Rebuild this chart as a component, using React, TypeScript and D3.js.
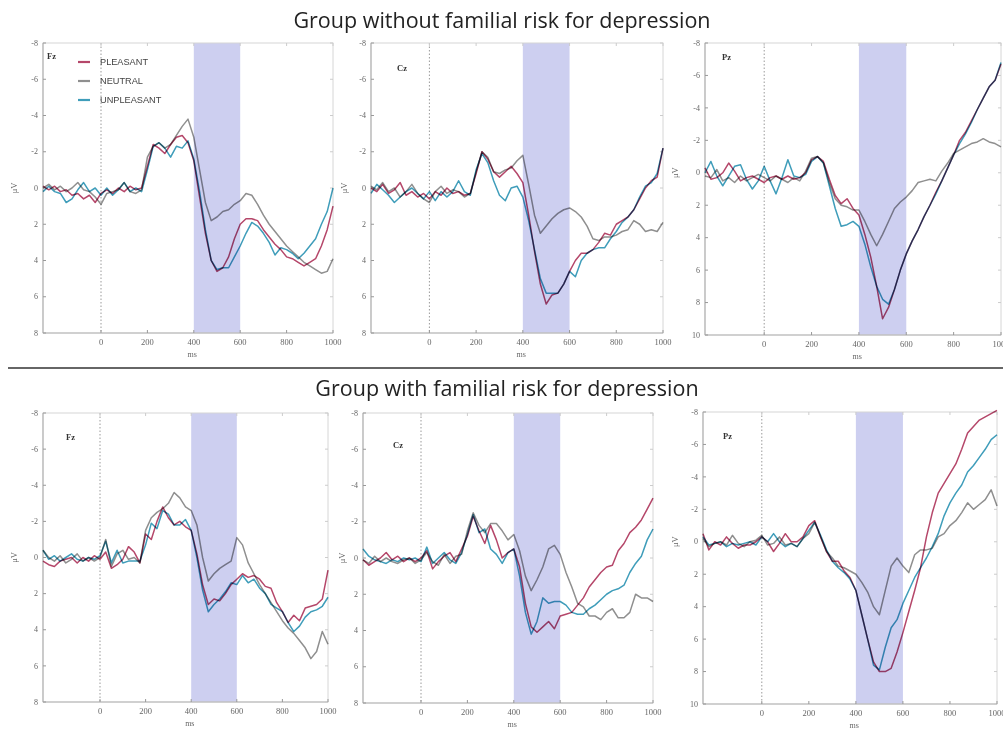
import React from "react";
import * as d3 from "d3";

// ---------- data ----------
const timeMs: number[] = d3.range(-250, 1001, 25);
const xTicks = [0, 200, 400, 600, 800, 1000];
const yTicksFzCz = [-8, -6, -4, -2, 0, 2, 4, 6, 8];
const yTicksPz = [-8, -6, -4, -2, 0, 2, 4, 6, 8, 10];
const conditions = ["PLEASANT", "NEUTRAL", "UNPLEASANT"];
const conditionColors = ["#b5476a", "#8f8f8f", "#3f9dba"];
const groupTitles = [
  "Group without familial risk for depression",
  "Group with familial risk for depression",
];
const windowMs = [400, 600];

// Group without familial risk
const noRiskFzPleasant = [
  -0.1, 0.1, -0.1, 0.2, 0.1, 0.4, 0.3, 0.6, 0.4, 0.8,
  0.3, 0.1, 0.3, 0.0, 0.2, -0.1, 0.1, 0.0, -1.2, -2.4,
  -2.2, -1.9, -2.4, -2.8, -2.9, -2.5, -1.5, 0.5, 2.5, 4.0,
  4.6, 4.4, 3.8, 2.8, 2.0, 1.7, 1.7, 1.8, 2.3, 2.7,
  3.1, 3.4, 3.8, 3.9, 4.1, 4.3, 4.1, 3.9, 3.2, 2.3,
  1.0,
];
const noRiskFzNeutral = [
  0.0, -0.2, 0.1, -0.1, 0.2, 0.0, -0.3, 0.1, 0.2, 0.5,
  0.9, 0.3, 0.2, 0.1, -0.3, 0.2, 0.3, 0.1, -1.7, -2.3,
  -2.5, -2.2, -2.4, -2.9, -3.4, -3.8, -2.8, -1.0, 0.8, 1.8,
  1.6, 1.3, 1.2, 0.9, 0.7, 0.3, 0.4, 0.9, 1.5, 2.0,
  2.4, 2.8, 3.2, 3.5, 3.8, 4.1, 4.3, 4.5, 4.7, 4.6,
  3.9,
];
const noRiskFzUnpleasant = [
  0.2, -0.1, 0.2, 0.3, 0.8, 0.6, 0.1, -0.3, 0.2, 0.0,
  0.4, 0.0, 0.4, 0.1, -0.3, 0.2, 0.0, 0.2, -1.0, -2.3,
  -2.5, -2.2, -1.7, -2.3, -2.2, -2.6, -1.6, 0.2, 2.3, 4.0,
  4.5, 4.4, 4.4, 3.8, 3.2, 2.5, 1.9, 2.1, 2.5, 3.0,
  3.7, 3.3, 3.4, 3.6, 3.9, 3.6, 3.2, 2.8, 2.0, 1.3,
  0.0,
];
const noRiskCzPleasant = [
  0.0, 0.2, -0.2, 0.3, 0.1, -0.3, 0.4, 0.2, 0.5, 0.3,
  0.6, 0.2, 0.4, 0.0, 0.3, 0.2, 0.4, 0.3, -0.8, -2.0,
  -1.6, -0.9, -0.6, -0.9, -1.2, -0.8, -0.3, 1.5, 3.5, 5.3,
  6.4, 5.9, 5.8, 5.3, 4.6, 4.0, 3.6, 3.6, 3.4, 3.0,
  2.5, 2.6, 2.0, 1.8, 1.6, 1.2, 0.6, 0.0, -0.4, -0.6,
  -2.2,
];
const noRiskCzNeutral = [
  -0.1, 0.1, -0.3, 0.2, 0.0, 0.5, 0.2, -0.2, 0.3, 0.6,
  0.8, 0.2, -0.1, 0.3, 0.1, 0.2, 0.5, 0.3, -0.9, -2.0,
  -1.7, -0.9, -0.8, -1.0, -1.1, -1.5, -1.8, -0.2, 1.5, 2.5,
  2.1, 1.7, 1.4, 1.2, 1.1, 1.3, 1.6, 2.1, 2.8, 2.9,
  2.7, 2.7, 2.6, 2.4, 2.3, 1.8, 2.0, 2.4, 2.3, 2.4,
  1.9,
];
const noRiskCzUnpleasant = [
  0.3, -0.2, 0.1, 0.4, 0.8, 0.5, 0.2, 0.0, 0.3, 0.6,
  0.2, 0.7, 0.2, 0.5, 0.2, -0.4, 0.2, 0.4, -1.0, -1.9,
  -1.4, -0.4, 0.4, 0.7, 0.0, -0.1, 0.5, 1.8, 3.4, 5.0,
  5.8, 5.8, 5.8, 5.3, 4.6, 4.9, 4.0, 3.6, 3.4, 3.3,
  3.3, 2.8, 2.4, 1.9, 1.6, 1.2, 0.5, -0.1, -0.3, -0.8,
  -2.2,
];
const noRiskPzPleasant = [
  -0.3, 0.4, 0.3, 0.0, -0.6, -0.1, 0.5, 0.3, 0.2, 0.4,
  0.6, 0.3, 0.2, 0.4, 0.2, 0.4, 0.3, 0.0, -0.8, -1.0,
  -0.7, 0.4, 1.4, 1.9, 1.6, 2.2, 2.6, 3.8, 5.2, 7.0,
  9.0, 8.3, 7.2, 6.0, 5.0, 4.2, 3.5, 2.7, 2.0, 1.2,
  0.5, -0.3, -1.1, -2.0, -2.5, -3.2, -3.9, -4.6, -5.3, -5.7,
  -6.7,
];
const noRiskPzNeutral = [
  0.2, 0.3, -0.2, 0.5, 0.3, 0.6, 0.2, 0.5, 0.3, 0.1,
  0.3, 0.5, 0.2, 0.4, 0.6, 0.3, 0.5, -0.1, -0.9, -1.0,
  -0.6, 0.6, 1.6, 2.0, 2.1, 2.3, 2.3, 3.0, 3.8, 4.5,
  3.8, 3.0, 2.2, 1.8, 1.5, 1.1, 0.6, 0.5, 0.4, 0.5,
  -0.1, -0.6, -1.2, -1.4, -1.6, -1.8, -1.9, -2.1, -1.9, -1.8,
  -1.6,
];
const noRiskPzUnpleasant = [
  0.0, -0.7, 0.2, 0.8, 0.2, -0.4, -0.5, 0.4, 1.0, 0.5,
  -0.4, 0.5, 1.3, 0.3, -0.8, 0.2, 0.3, 0.1, -0.7, -1.0,
  -0.6, 0.8, 2.2, 3.3, 3.2, 3.0, 3.3, 4.4, 5.8, 7.0,
  7.8, 8.1, 7.2, 6.0, 5.0, 4.2, 3.5, 2.7, 2.0, 1.3,
  0.5, -0.3, -1.1, -1.8, -2.4, -3.1, -3.9, -4.6, -5.3, -5.7,
  -6.8,
];

// Group with familial risk
const riskFzPleasant = [
  0.2, 0.4, 0.5, 0.2, 0.1, 0.0, 0.3, 0.0, 0.2, -0.1,
  0.1, -0.3, 0.6, 0.4, 0.1, -0.6, -0.3, 0.3, -1.3, -1.0,
  -2.0, -2.8, -2.2, -1.8, -2.0, -1.7, -1.5, -0.2, 1.5, 2.6,
  2.3, 2.4, 2.0, 1.5, 1.2, 0.9, 1.1, 1.0, 1.2, 1.6,
  1.7, 2.5, 3.0, 3.6, 3.2, 3.5, 2.8, 2.7, 2.6, 2.3,
  0.7,
];
const riskFzNeutral = [
  -0.4, 0.0, 0.2, -0.1, 0.3, 0.1, -0.2, 0.2, 0.0, 0.2,
  0.0, -1.0, 0.5, -0.2, -0.4, 0.1, 0.0, 0.3, -1.5, -2.2,
  -2.5, -2.7, -3.0, -3.6, -3.3, -2.8, -2.6, -1.8, 0.0, 1.3,
  0.9, 0.6, 0.4, 0.2, -1.1, -0.7, 0.3, 0.9, 1.5, 2.0,
  2.5, 3.0, 3.5, 3.9, 4.2, 4.6, 5.0, 5.6, 5.2, 4.1,
  4.8,
];
const riskFzUnpleasant = [
  -0.4, 0.1, -0.1, 0.2, 0.0, -0.2, 0.1, 0.2, 0.0, 0.1,
  -0.1, -0.9, 0.3, -0.4, 0.3, 0.2, 0.2, 0.2, -0.7, -1.9,
  -1.6, -2.6, -2.4, -1.8, -1.8, -2.1, -1.5, 0.0, 1.8, 3.0,
  2.6, 2.3, 1.9, 1.4, 1.5, 1.0, 1.4, 1.2, 1.7, 2.0,
  2.6, 2.8, 3.0, 3.6, 4.1, 3.8, 3.3, 3.0, 2.9, 2.7,
  2.2,
];
const riskCzPleasant = [
  0.1, 0.4, 0.2, 0.0, -0.3, 0.1, -0.1, 0.2, 0.0, 0.2,
  0.0, -0.4, 0.6, 0.2, -0.1, -0.3, 0.2, -0.5, -1.2, -2.3,
  -1.5, -0.8, -1.8, -1.0, 0.0, -0.3, -0.5, 0.5, 2.5, 3.8,
  4.1, 3.8, 3.5, 3.9, 3.2, 3.1, 3.0, 2.6, 2.2, 1.6,
  1.2, 0.8, 0.5, 0.4, -0.4, -0.8, -1.4, -1.7, -2.1, -2.7,
  -3.3,
];
const riskCzNeutral = [
  0.1, 0.3, -0.1, 0.2, 0.0, 0.2, 0.3, 0.1, 0.0, 0.3,
  0.1, -0.3, 0.2, 0.4, -0.2, 0.3, -0.1, -0.2, -1.5, -2.5,
  -1.8, -1.4, -1.9, -1.9, -1.5, -1.0, -1.3, -0.4, 1.0, 1.8,
  1.2, 0.5, -0.5, -0.7, -0.2, 0.8, 1.6, 2.5, 2.7, 3.2,
  3.2, 3.4, 3.0, 2.8, 3.3, 3.3, 3.0, 2.0, 2.2, 2.2,
  2.4,
];
const riskCzUnpleasant = [
  -0.5, -0.1, 0.1, 0.2, 0.3, 0.1, 0.2, 0.0, 0.1, 0.0,
  0.2, -0.6, 0.3, 0.0, -0.3, 0.1, 0.3, -0.3, -1.3, -2.4,
  -1.4, -1.6, -0.5, -0.2, 0.3, -0.3, -0.5, 1.0, 3.0, 4.2,
  3.5, 2.2, 2.5, 2.4, 2.4, 2.6, 3.0, 3.1, 3.1, 2.8,
  2.6, 2.3, 2.0, 1.8, 1.7, 1.5, 0.8, 0.3, -0.1, -1.0,
  -1.6,
];
const riskPzPleasant = [
  -0.5, 0.5, 0.0, 0.2, -0.3, 0.1, 0.4, 0.2, 0.2, 0.0,
  -0.3, 0.0, 0.6, 0.1, -0.5, 0.0, 0.0, -0.3, -1.0, -1.3,
  -0.3, 0.6, 1.2, 1.2, 1.8, 2.2, 3.0, 4.5, 6.0, 7.4,
  8.0, 8.0, 7.8, 6.8, 5.6, 4.3, 3.0, 1.6, -0.3, -1.8,
  -3.0, -3.6, -4.2, -4.8, -5.7, -6.7, -7.1, -7.5, -7.7, -7.9,
  -8.1,
];
const riskPzNeutral = [
  -0.2, 0.3, 0.1, 0.0, 0.2, -0.4, 0.1, 0.3, 0.0, -0.1,
  -0.4, 0.2, 0.1, -0.3, 0.2, 0.1, 0.3, -0.2, -0.5, -1.2,
  -0.3, 0.6, 1.0, 1.5, 1.6, 1.8, 2.0, 2.5, 3.1, 4.0,
  4.5, 3.0, 1.5, 1.0, 1.5, 1.9, 0.8, 0.5, 0.5, 0.4,
  -0.3, -0.5, -1.0, -1.3, -1.8, -2.4, -2.0, -2.3, -2.6, -3.2,
  -2.2,
];
const riskPzUnpleasant = [
  -0.3, 0.2, 0.1, 0.0, 0.3, 0.1, 0.2, 0.1, 0.0, 0.2,
  -0.3, 0.0, -0.5, 0.0, 0.3, 0.1, 0.3, -0.2, -0.7, -1.2,
  -0.4, 0.5, 1.2, 1.6, 1.9, 2.3, 3.0, 4.5, 6.0, 7.6,
  7.9, 6.5, 5.3, 4.8, 3.8, 3.0, 2.2, 1.6, 1.0, 0.3,
  -0.5, -1.6, -2.4, -3.0, -3.5, -4.3, -4.7, -5.2, -5.7, -6.3,
  -6.6,
];

// ---------- layout ----------
type PanelSpec = {
  electrode: string;
  series: number[][];
  yTicks: number[];
  l: number; r: number; t: number; b: number;
  labelX: number; labelY: number;
  uvX: number;
  legend?: boolean;
};

const panels: PanelSpec[] = [
  { electrode: "Fz", series: [noRiskFzPleasant, noRiskFzNeutral, noRiskFzUnpleasant], yTicks: yTicksFzCz, l: 43, r: 333, t: 43, b: 333, labelX: 47, labelY: 59, uvX: 17, legend: true },
  { electrode: "Cz", series: [noRiskCzPleasant, noRiskCzNeutral, noRiskCzUnpleasant], yTicks: yTicksFzCz, l: 371, r: 663, t: 43, b: 333, labelX: 397, labelY: 71, uvX: 347 },
  { electrode: "Pz", series: [noRiskPzPleasant, noRiskPzNeutral, noRiskPzUnpleasant], yTicks: yTicksPz, l: 705, r: 1001, t: 43, b: 335, labelX: 722, labelY: 60, uvX: 678 },
  { electrode: "Fz", series: [riskFzPleasant, riskFzNeutral, riskFzUnpleasant], yTicks: yTicksFzCz, l: 43, r: 328, t: 413, b: 702, labelX: 66, labelY: 440, uvX: 17 },
  { electrode: "Cz", series: [riskCzPleasant, riskCzNeutral, riskCzUnpleasant], yTicks: yTicksFzCz, l: 363, r: 653, t: 413, b: 703, labelX: 393, labelY: 448, uvX: 345 },
  { electrode: "Pz", series: [riskPzPleasant, riskPzNeutral, riskPzUnpleasant], yTicks: yTicksPz, l: 703, r: 997, t: 412, b: 704, labelX: 723, labelY: 439, uvX: 678 },
];

const drawOrder = [1, 0, 2];

function Panel({ p }: { p: PanelSpec }) {
  const x = d3.scaleLinear().domain([-250, 1000]).range([p.l, p.r]);
  const y = d3
    .scaleLinear()
    .domain([p.yTicks[0], p.yTicks[p.yTicks.length - 1]])
    .range([p.t, p.b]);
  const line = d3
    .line<number>()
    .x((_, i) => x(timeMs[i]))
    .y((v) => y(v));
  const tickFont = "'Liberation Serif', 'DejaVu Serif', serif";
  return (
    <g>
      <rect x={x(windowMs[0])} y={p.t} width={x(windowMs[1]) - x(windowMs[0])} height={p.b - p.t} fill="#cdcff0" />
      <line x1={x(0)} x2={x(0)} y1={p.t} y2={p.b} stroke="#9a9a9a" strokeWidth={1} strokeDasharray="1.5,2" />
      <rect x={p.l} y={p.t} width={p.r - p.l} height={p.b - p.t} fill="none" stroke="#d6d6d6" strokeWidth={1} />
      <line x1={p.l} x2={p.l} y1={p.t} y2={p.b} stroke="#b5b5b5" strokeWidth={1.2} />
      <line x1={p.l} x2={p.r} y1={p.b} y2={p.b} stroke="#b5b5b5" strokeWidth={1.2} />
      {p.yTicks.map((v) => (
        <g key={"y" + v}>
          <line x1={p.l} x2={p.l + 3} y1={y(v)} y2={y(v)} stroke="#999" />
          <line x1={p.r} x2={p.r - 3} y1={y(v)} y2={y(v)} stroke="#ccc" />
          <text x={p.l - 5} y={y(v)} dy="0.33em" textAnchor="end" fontSize={8} fill="#666" fontFamily={tickFont}>
            {v}
          </text>
        </g>
      ))}
      {xTicks.map((v) => (
        <g key={"x" + v}>
          <line x1={x(v)} x2={x(v)} y1={p.b} y2={p.b - 3} stroke="#999" />
          <line x1={x(v)} x2={x(v)} y1={p.t} y2={p.t + 3} stroke="#ccc" />
          <text x={x(v)} y={p.b + 12} textAnchor="middle" fontSize={8.5} fill="#666" fontFamily={tickFont}>
            {v}
          </text>
        </g>
      ))}
      <text x={(x(300) + x(400)) / 2 + 10} y={p.b + 24} textAnchor="middle" fontSize={8} fill="#666" fontFamily={tickFont}>
        ms
      </text>
      <text
        transform={`translate(${p.uvX},${y(0)}) rotate(-90)`}
        textAnchor="middle"
        fontSize={8.5}
        fill="#666"
        fontFamily={tickFont}
      >
        μV
      </text>
      {drawOrder.map((ci) => (
        <path
          key={ci}
          d={line(p.series[ci]) || ""}
          fill="none"
          stroke={conditionColors[ci]}
          strokeWidth={1.5}
          strokeLinejoin="round"
          style={{ mixBlendMode: "multiply" }}
        />
      ))}
      <text x={p.labelX} y={p.labelY} fontSize={8.5} fontWeight="bold" fill="#333" fontFamily={tickFont}>
        {p.electrode}
      </text>
      {p.legend &&
        conditions.map((c, i) => (
          <g key={c}>
            <line x1={78} x2={90} y1={62 + i * 19} y2={62 + i * 19} stroke={conditionColors[i]} strokeWidth={2.2} />
            <text x={100} y={62 + i * 19} dy="0.35em" fontSize={9.2} fill="#444" fontFamily="'Liberation Sans', Arial, sans-serif">
              {c}
            </text>
          </g>
        ))}
    </g>
  );
}

export default function App() {
  return (
    <svg
      width={1003}
      height={731}
      viewBox="0 0 1003 731"
      style={{ position: "absolute", left: 0, top: 0, background: "#fff" }}
    >
      <rect x={0} y={0} width={1003} height={731} fill="#fff" />
      <text x={502} y={28} textAnchor="middle" fontSize={21.5} fill="#222" fontFamily="'Open Sans', sans-serif">
        {groupTitles[0]}
      </text>
      <line x1={8} x2={1003} y1={368} y2={368} stroke="#666" strokeWidth={2} />
      <text x={507} y={396} textAnchor="middle" fontSize={21.5} fill="#222" fontFamily="'Open Sans', sans-serif">
        {groupTitles[1]}
      </text>
      {panels.map((p, i) => (
        <Panel key={i} p={p} />
      ))}
    </svg>
  );
}
